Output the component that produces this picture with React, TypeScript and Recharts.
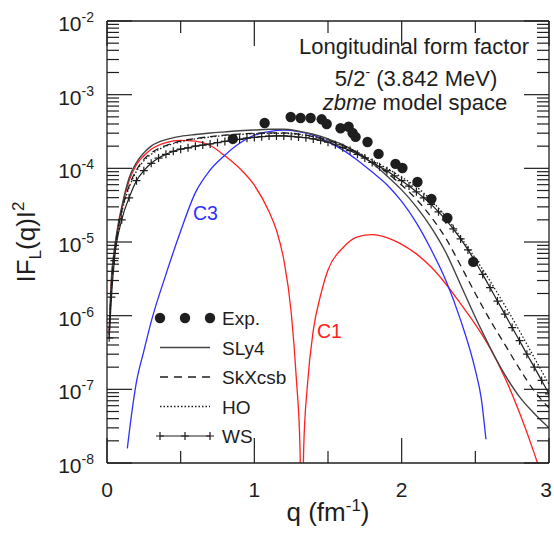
import React from "react";
import { ComposedChart, Line, Scatter, XAxis, YAxis, Legend, Label } from "recharts";

const FONT = "'Liberation Sans', Arial, Helvetica, sans-serif";
const INK = "#1e1e1e";
const RED = "#ff2020";
const BLUE = "#2f2fff";

const W = 554;
const H = 538;

// q grid (fm^-1) for the SLy4, SkXcsb and HO curves
const qModel = [0.015, 0.03, 0.05, 0.075, 0.1, 0.15, 0.2, 0.25, 0.3, 0.4, 0.5, 0.6, 0.7, 0.8, 0.9, 1.0, 1.1, 1.2, 1.3, 1.4, 1.5, 1.6, 1.7, 1.8, 1.9, 2.0, 2.1, 2.2, 2.3, 2.4, 2.5, 2.6, 2.7, 2.8, 2.9, 3.0];
const sly4 = [6.3e-7, 3.2e-6, 7.9e-6, 1.7e-5, 3.0e-5, 7.4e-5, 1.2e-4, 1.62e-4, 2.0e-4, 2.45e-4, 2.72e-4, 2.88e-4, 3.02e-4, 3.13e-4, 3.24e-4, 3.31e-4, 3.39e-4, 3.39e-4, 3.2e-4, 2.9e-4, 2.51e-4, 2.09e-4, 1.62e-4, 1.17e-4, 7.9e-5, 5.1e-5, 3.0e-5, 1.58e-5, 7.2e-6, 2.63e-6, 9.5e-7, 3.7e-7, 1.58e-7, 7.9e-8, 4.7e-8, 3.0e-8];
const skxcsb = [5.6e-7, 2.5e-6, 6.6e-6, 1.48e-5, 2.63e-5, 5.75e-5, 9.5e-5, 1.32e-4, 1.62e-4, 2.04e-4, 2.34e-4, 2.54e-4, 2.69e-4, 2.82e-4, 2.92e-4, 2.99e-4, 3.02e-4, 3.02e-4, 2.92e-4, 2.69e-4, 2.4e-4, 2.04e-4, 1.62e-4, 1.23e-4, 8.7e-5, 5.9e-5, 3.8e-5, 2.19e-5, 1.12e-5, 4.8e-6, 2.0e-6, 8.7e-7, 4.07e-7, 1.9e-7, 9.5e-8, 5.6e-8];
const ho = [5.6e-7, 2.4e-6, 6.3e-6, 1.41e-5, 2.51e-5, 5.5e-5, 9.1e-5, 1.26e-4, 1.55e-4, 2.0e-4, 2.29e-4, 2.51e-4, 2.66e-4, 2.79e-4, 2.88e-4, 2.95e-4, 2.99e-4, 2.99e-4, 2.88e-4, 2.69e-4, 2.4e-4, 2.04e-4, 1.66e-4, 1.29e-4, 1.0e-4, 7.6e-5, 5.6e-5, 3.7e-5, 2.19e-5, 1.17e-5, 6.0e-6, 2.95e-6, 1.38e-6, 6.2e-7, 2.69e-7, 1.17e-7];

// Woods-Saxon curve, one marker per sample
const qWs = [0.015, 0.03, 0.05, 0.1, 0.15, 0.2, 0.25, 0.3, 0.35, 0.4, 0.45, 0.5, 0.55, 0.6, 0.65, 0.7, 0.75, 0.8, 0.85, 0.9, 0.95, 1.0, 1.05, 1.1, 1.15, 1.2, 1.25, 1.3, 1.35, 1.4, 1.45, 1.5, 1.55, 1.6, 1.65, 1.7, 1.75, 1.8, 1.85, 1.9, 1.95, 2.0, 2.05, 2.1, 2.15, 2.2, 2.25, 2.3, 2.35, 2.4, 2.45, 2.5, 2.55, 2.6, 2.65, 2.7, 2.75, 2.8, 2.85, 2.9, 2.95, 3.0];
const ws = [5.0e-7, 1.78e-6, 5.6e-6, 2.0e-5, 3.98e-5, 6.8e-5, 9.3e-5, 1.17e-4, 1.38e-4, 1.55e-4, 1.7e-4, 1.82e-4, 1.9e-4, 2.0e-4, 2.07e-4, 2.14e-4, 2.24e-4, 2.32e-4, 2.4e-4, 2.48e-4, 2.57e-4, 2.63e-4, 2.69e-4, 2.74e-4, 2.75e-4, 2.75e-4, 2.72e-4, 2.66e-4, 2.6e-4, 2.51e-4, 2.4e-4, 2.26e-4, 2.09e-4, 1.91e-4, 1.74e-4, 1.55e-4, 1.38e-4, 1.2e-4, 1.05e-4, 9.3e-5, 7.9e-5, 6.8e-5, 5.75e-5, 4.8e-5, 3.98e-5, 3.24e-5, 2.57e-5, 2.0e-5, 1.51e-5, 1.1e-5, 7.8e-6, 5.4e-6, 3.63e-6, 2.4e-6, 1.58e-6, 1.05e-6, 6.9e-7, 4.57e-7, 3.0e-7, 2.0e-7, 1.32e-7, 8.7e-8];

// C1 multipole, with its diffraction zero near 1.32 fm^-1
const qC1 = [0.015, 0.03, 0.05, 0.075, 0.1, 0.15, 0.2, 0.25, 0.3, 0.4, 0.5, 0.6, 0.7, 0.8, 0.9, 1.0, 1.1, 1.15, 1.2, 1.25, 1.285, 1.31, 1.322, 1.335, 1.36, 1.4, 1.45, 1.5, 1.6, 1.7, 1.8, 1.9, 2.0, 2.1, 2.2, 2.3, 2.4, 2.5, 2.6, 2.7, 2.8, 2.9, 2.93];
const c1 = [5.6e-7, 3.0e-6, 7.4e-6, 1.58e-5, 2.82e-5, 6.8e-5, 1.12e-4, 1.48e-4, 1.82e-4, 2.24e-4, 2.4e-4, 2.34e-4, 2.04e-4, 1.48e-4, 1.0e-4, 5.9e-5, 2.57e-5, 1.45e-5, 5.75e-6, 1.12e-6, 1.41e-7, 1.58e-8, 3.2e-10, 1.58e-8, 1.12e-7, 6.3e-7, 1.9e-6, 4.17e-6, 8.3e-6, 1.17e-5, 1.26e-5, 1.15e-5, 9.3e-6, 6.9e-6, 4.57e-6, 2.69e-6, 1.45e-6, 7.6e-7, 3.63e-7, 1.45e-7, 4.8e-8, 1.35e-8, 8.9e-9];

// C3 multipole
const qC3 = [0.138, 0.15, 0.2, 0.25, 0.3, 0.4, 0.5, 0.6, 0.7, 0.8, 0.9, 1.0, 1.1, 1.2, 1.3, 1.4, 1.5, 1.6, 1.7, 1.8, 1.9, 2.0, 2.1, 2.2, 2.3, 2.4, 2.5, 2.54, 2.572];
const c3 = [1.58e-8, 2.5e-8, 1.26e-7, 3.3e-7, 8.3e-7, 3.63e-6, 1.41e-5, 4.68e-5, 9.5e-5, 1.51e-4, 2.19e-4, 2.82e-4, 3.16e-4, 3.3e-4, 3.16e-4, 2.82e-4, 2.29e-4, 1.78e-4, 1.29e-4, 8.9e-5, 6.0e-5, 3.55e-5, 1.82e-5, 7.9e-6, 3.0e-6, 8.7e-7, 1.82e-7, 7.6e-8, 2.1e-8];

// measured form factor
const qExp = [0.854, 1.07, 1.247, 1.314, 1.382, 1.457, 1.491, 1.585, 1.64, 1.667, 1.687, 1.768, 1.843, 1.958, 2.005, 2.107, 2.202, 2.31, 2.486];
const fExp = [2.51e-4, 4.13e-4, 4.98e-4, 4.83e-4, 4.83e-4, 4.63e-4, 4.0e-4, 3.5e-4, 3.67e-4, 3.02e-4, 2.67e-4, 2.28e-4, 1.57e-4, 1.15e-4, 1.01e-4, 6.53e-5, 3.85e-5, 2.12e-5, 5.37e-6];

const xTicks = [0, 0.5, 1, 1.5, 2, 2.5, 3];
const decades = [1e-8, 1e-7, 1e-6, 1e-5, 1e-4, 1e-3, 1e-2];
const minorSteps = [2, 3, 4, 5, 6, 7, 8, 9];

const legendRows = ["Exp.", "SLy4", "SkXcsb", "HO", "WS"];

const toPoints = (qs: number[], vals: number[]) => qs.map((q, i) => ({ q, f: vals[i] }));

const yTicks = [
  ...decades,
  ...decades.slice(0, -1).flatMap((d) => minorSteps.map((m) => m * d)),
].sort((a, b) => a - b);

const MAJOR = 25;
const MINOR = 12;
const GAP = 13;

const isDecade = (v: number) => Math.abs(Math.log10(v) - Math.round(Math.log10(v))) < 1e-6;
const isInt = (v: number) => Math.abs(v - Math.round(v)) < 1e-9;

function LeftTick(props: any) {
  const { x, y, payload } = props;
  const v = payload.value;
  const major = isDecade(v);
  const ax = x + GAP;
  return (
    <g>
      <line x1={ax} x2={ax + (major ? MAJOR : MINOR)} y1={y} y2={y} stroke={INK} strokeWidth={1.2} />
      {major && (
        <text x={x} y={y + 10} textAnchor="end" fontFamily={FONT} fontSize={21} fill={INK}>
          10<tspan dy={-9} fontSize={14}>{Math.round(Math.log10(v))}</tspan>
        </text>
      )}
    </g>
  );
}

function RightTick(props: any) {
  const { x, y, payload } = props;
  const ax = x - GAP;
  const len = isDecade(payload.value) ? MAJOR : MINOR;
  return <line x1={ax} x2={ax - len} y1={y} y2={y} stroke={INK} strokeWidth={1.2} />;
}

function BottomTick(props: any) {
  const { x, y, payload } = props;
  const v = payload.value;
  const ay = y - GAP;
  const major = isInt(v);
  return (
    <g>
      <line x1={x} x2={x} y1={ay} y2={ay - (major ? MAJOR : MINOR)} stroke={INK} strokeWidth={1.2} />
      {major && (
        <text x={Math.min(x, W - 8)} y={ay + 34} textAnchor="middle" fontFamily={FONT} fontSize={21} fill={INK}>
          {v}
        </text>
      )}
    </g>
  );
}

function TopTick(props: any) {
  const { x, y, payload } = props;
  const ay = y + GAP;
  const len = isInt(payload.value) ? MAJOR : MINOR;
  return <line x1={x} x2={x} y1={ay} y2={ay + len} stroke={INK} strokeWidth={1.2} />;
}

const plusPath = (cx: number, cy: number, s = 4) => `M${cx - s},${cy}h${2 * s}M${cx},${cy - s}v${2 * s}`;

function WsDot(props: any) {
  const { cx, cy } = props;
  if (cx == null || cy == null) return <g />;
  return <path d={plusPath(cx, cy)} stroke={INK} strokeWidth={1.2} fill="none" />;
}

function ExpDot(props: any) {
  const { cx, cy } = props;
  return <circle cx={cx} cy={cy} r={5.2} fill={INK} />;
}

function LegendSample({ name, cy }: { name: string; cy: number }) {
  if (name === "Exp.") {
    return (
      <g fill={INK}>
        <circle cx={10} cy={cy} r={5.2} />
        <circle cx={35} cy={cy} r={5.2} />
        <circle cx={60} cy={cy} r={5.2} />
      </g>
    );
  }
  if (name === "WS") {
    return (
      <g stroke={INK} strokeWidth={1.2} fill="none">
        <line x1={10} x2={60} y1={cy} y2={cy} />
        <path d={plusPath(10, cy) + plusPath(35, cy) + plusPath(60, cy)} />
      </g>
    );
  }
  const dash = name === "SkXcsb" ? "8 6" : name === "HO" ? "1.5 2" : undefined;
  return <line x1={10} x2={60} y1={cy} y2={cy} stroke={name === "SLy4" ? "#444" : INK} strokeWidth={1.3} strokeDasharray={dash} />;
}

function LegendBox() {
  return (
    <svg width={180} height={150} fontFamily={FONT}>
      {legendRows.map((name, i) => {
        const cy = 15 + i * 29.5;
        return (
          <g key={name}>
            <LegendSample name={name} cy={cy} />
            <text x={72} y={cy + 7} fontSize={19} fill={INK}>
              {name}
            </text>
          </g>
        );
      })}
    </svg>
  );
}

function YTitle(props: any) {
  const vb = props.viewBox ?? { x: 0, y: 21, width: 107, height: 442 };
  const cx = vb.x + 35;
  const cy = vb.y + vb.height / 2;
  return (
    <text transform={`rotate(-90 ${cx} ${cy})`} x={cx} y={cy} textAnchor="middle" fontFamily={FONT} fontSize={26} fill={INK}>
      IF<tspan dy={6} fontSize={17}>L</tspan>
      <tspan dy={-6}>(q)I</tspan>
      <tspan dy={-11} fontSize={17}>2</tspan>
    </text>
  );
}

function XTitle(props: any) {
  const vb = props.viewBox ?? { x: 107, y: 463, width: 442, height: 75 };
  const cx = vb.x + vb.width / 2;
  return (
    <text x={cx} y={vb.y + 58} textAnchor="middle" fontFamily={FONT} fontSize={26} fill={INK}>
      q (fm<tspan dy={-10} fontSize={17}>-1</tspan>
      <tspan dy={10}>)</tspan>
    </text>
  );
}

export default function App() {
  const axisLine = { stroke: INK, strokeWidth: 1.3 };
  return (
    <div style={{ position: "absolute", left: 0, top: 0, width: W, height: H, background: "#fff" }}>
      <ComposedChart width={W} height={H} margin={{ top: 0, right: 0, bottom: 0, left: 0 }}>
        <XAxis
          dataKey="q"
          type="number"
          domain={[0, 3]}
          allowDataOverflow
          ticks={xTicks}
          interval={0}
          height={75}
          tickSize={0}
          tickMargin={GAP}
          tickLine={false}
          axisLine={axisLine}
          tick={(p: any) => <BottomTick {...p} />}
        >
          <Label content={(p: any) => <XTitle {...p} />} />
        </XAxis>
        <XAxis
          xAxisId="top"
          orientation="top"
          dataKey="q"
          type="number"
          domain={[0, 3]}
          allowDataOverflow
          ticks={xTicks}
          interval={0}
          height={21}
          tickSize={0}
          tickMargin={GAP}
          tickLine={false}
          axisLine={axisLine}
          tick={(p: any) => <TopTick {...p} />}
        />
        <YAxis
          type="number"
          scale="log"
          domain={[1e-8, 1e-2]}
          allowDataOverflow
          ticks={yTicks}
          interval={0}
          width={107}
          tickSize={0}
          tickMargin={GAP}
          tickLine={false}
          axisLine={axisLine}
          tick={(p: any) => <LeftTick {...p} />}
        >
          <Label content={(p: any) => <YTitle {...p} />} />
        </YAxis>
        <YAxis
          yAxisId="right"
          orientation="right"
          type="number"
          scale="log"
          domain={[1e-8, 1e-2]}
          allowDataOverflow
          ticks={yTicks}
          interval={0}
          width={5}
          tickSize={0}
          tickMargin={GAP}
          tickLine={false}
          axisLine={axisLine}
          tick={(p: any) => <RightTick {...p} />}
        />

        <Line data={toPoints(qC1, c1)} dataKey="f" name="C1" type="monotone" stroke={RED} strokeWidth={1.3} dot={false} legendType="none" isAnimationActive={false} />
        <Line data={toPoints(qC3, c3)} dataKey="f" name="C3" type="monotone" stroke={BLUE} strokeWidth={1.3} dot={false} legendType="none" isAnimationActive={false} />
        <Line data={toPoints(qModel, sly4)} dataKey="f" name="SLy4" type="monotone" stroke="#444" strokeWidth={1.4} dot={false} isAnimationActive={false} />
        <Line data={toPoints(qModel, skxcsb)} dataKey="f" name="SkXcsb" type="monotone" stroke={INK} strokeWidth={1.3} strokeDasharray="7 5" dot={false} isAnimationActive={false} />
        <Line data={toPoints(qModel, ho)} dataKey="f" name="HO" type="monotone" stroke={INK} strokeWidth={1.3} strokeDasharray="1.5 2" dot={false} isAnimationActive={false} />
        <Line data={toPoints(qWs, ws)} dataKey="f" name="WS" type="monotone" stroke={INK} strokeWidth={1.2} dot={(p: any) => <WsDot key={p.index} {...p} />} isAnimationActive={false} />
        <Scatter data={toPoints(qExp, fExp)} dataKey="f" name="Exp." shape={(p: any) => <ExpDot {...p} />} isAnimationActive={false} />

        <Legend
          layout="vertical"
          align="center"
          verticalAlign="middle"
          wrapperStyle={{ left: 150, top: 303, width: 180, height: 150 }}
          content={() => <LegendBox />}
        />
      </ComposedChart>

      <svg width={W} height={H} fontFamily={FONT} style={{ position: "absolute", left: 0, top: 0, pointerEvents: "none" }}>
        <text x={414} y={54} textAnchor="middle" fontSize={22} fill={INK}>
          Longitudinal form factor
        </text>
        <text x={416} y={86} textAnchor="middle" fontSize={22} fill={INK}>
          5/2<tspan dy={-9} fontSize={14}>-</tspan>
          <tspan dy={9}> (3.842 MeV)</tspan>
        </text>
        <text x={415} y={110} textAnchor="middle" fontSize={22} fill={INK}>
          <tspan fontStyle="italic">zbme</tspan> model space
        </text>
        <text x={193} y={220} fontSize={19.5} fill={BLUE}>
          C3
        </text>
        <text x={317} y={338} fontSize={19.5} fill={RED}>
          C1
        </text>
      </svg>
    </div>
  );
}
